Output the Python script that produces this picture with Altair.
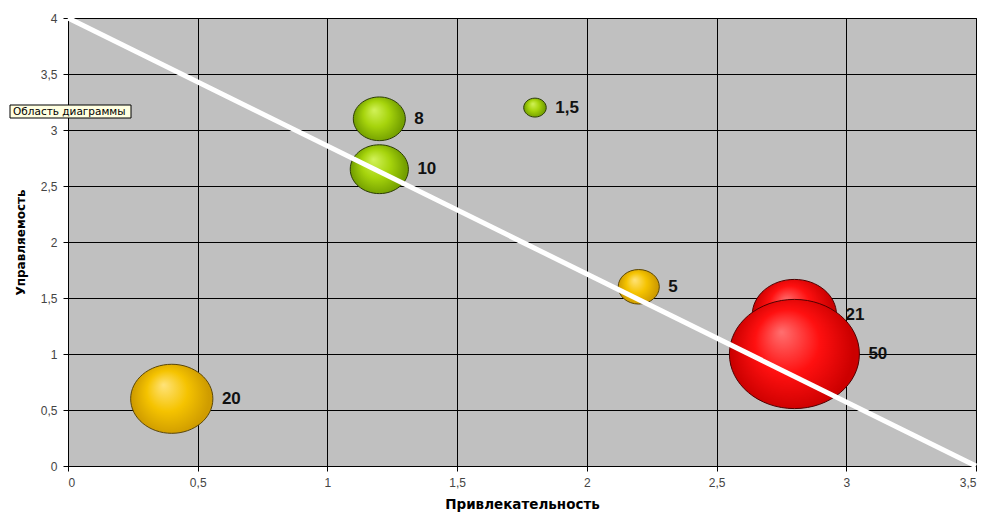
import altair as alt
import pandas as pd

# ---- data ----
labels = ["20", "8", "10", "1,5", "5", "21", "50"]
attract = [0.4, 1.2, 1.2, 1.8, 2.2, 2.8, 2.8]      # Привлекательность (x)
control = [0.6, 3.1, 2.65, 3.2, 1.6, 1.35, 1.0]    # Управляемость (y)
volume = [20, 8, 10, 1.5, 5, 21, 50]               # bubble size
group = ["yellow", "green", "green", "green", "yellow", "red", "red"]

line_x = [0, 3.5]
line_y = [4, 0]

x_ticks = [0, 0.5, 1, 1.5, 2, 2.5, 3, 3.5]
y_ticks = [0, 0.5, 1, 1.5, 2, 2.5, 3, 3.5, 4]

tooltip_text = ["Область диаграммы"]

df = pd.DataFrame({"label": labels, "x": attract, "y": control, "v": volume, "g": group})
line_df = pd.DataFrame({"x": line_x, "y": line_y})
tip_df = pd.DataFrame({"t": tooltip_text})

W, H = 908, 448
MAXD = 130  # pixel width of the largest bubble

FONT = "Liberation Sans"
TFONT = "DejaVu Sans"
label_expr = "replace(format(datum.value, '~g'), '.', ',')"

xs = alt.Scale(domain=[0, 3.5], nice=False, zero=True)
ys = alt.Scale(domain=[0, 4], nice=False, zero=True)
ss = alt.Scale(type="linear", domain=[0, 50], range=[0, MAXD * MAXD])

ellipse = "M -1 0 A 1 0.84 0 1 1 1 0 A 1 0.84 0 1 1 -1 0 Z"

palettes = {
    "yellow": ("#ffe37a", "#f5c300", "#cf9c00", "#5a4608"),
    "green": ("#d2f25a", "#a6d40c", "#74a000", "#2c3c06"),
    "red": ("#ff7070", "#ff1010", "#cc0000", "#500000"),
}


def grad(light, base, dark):
    return {
        "gradient": "radial",
        "x1": 0.4, "y1": 0.33, "r1": 0,
        "x2": 0.5, "y2": 0.5, "r2": 0.55,
        "stops": [
            {"offset": 0, "color": light},
            {"offset": 0.45, "color": base},
            {"offset": 0.85, "color": dark},
            {"offset": 1, "color": dark},
        ],
    }


x_enc = alt.X("x:Q", scale=xs, title="Привлекательность",
              axis=alt.Axis(values=x_ticks, labelExpr=label_expr))
y_enc = alt.Y("y:Q", scale=ys, title="Управляемость",
              axis=alt.Axis(values=y_ticks, labelExpr=label_expr))

base = alt.Chart(df)

bubble_layers = []
for g in ["yellow", "green", "red"]:
    light, mid, dark, edge = palettes[g]
    bubble_layers.append(
        base.transform_filter(alt.datum.g == g)
        .mark_point(shape=ellipse, filled=True, fill=grad(light, mid, dark),
                    stroke=edge, strokeWidth=1, opacity=1, fillOpacity=1, strokeOpacity=1)
        .encode(x=x_enc, y=y_enc,
                size=alt.Size("v:Q", scale=ss, legend=None))
    )

text_layer = (
    base.transform_calculate(
        lx=f"datum.x + (sqrt(datum.v) * {MAXD} / sqrt(50) / 2 + 9) * 3.5 / {W}"
    )
    .mark_text(align="left", baseline="middle", font=FONT, fontSize=17,
               fontWeight="bold", color="#111")
    .encode(x=alt.X("lx:Q", scale=xs), y=alt.Y("y:Q", scale=ys), text="label:N")
)

line_layer = (
    alt.Chart(line_df)
    .mark_line(color="white", strokeWidth=5, strokeCap="butt")
    .encode(x=alt.X("x:Q", scale=xs), y=alt.Y("y:Q", scale=ys))
)

tip_box = (
    alt.Chart(tip_df)
    .mark_rect(fill="#ffffe1", stroke="#000", strokeWidth=1)
    .encode(x=alt.value(-58), x2=alt.value(63), y=alt.value(87), y2=alt.value(100))
)
tip_text = (
    alt.Chart(tip_df)
    .mark_text(align="left", baseline="middle", font=TFONT, fontSize=10.5, color="#000")
    .encode(x=alt.value(-55), y=alt.value(93.5), text="t:N")
)

chart = (
    alt.layer(*bubble_layers, line_layer, text_layer, tip_box, tip_text)
    .properties(width=W, height=H,
                padding={"left": 68, "top": 18, "right": 11, "bottom": 49},
                autosize=alt.AutoSizeParams(type="none"),
                background="white")
    .configure_view(fill="#c0c0c0", stroke="#000", strokeWidth=1)
    .configure_axis(
        grid=True, gridColor="#000", gridOpacity=1, gridWidth=1,
        domainColor="#000", domainWidth=1,
        tickColor="#000", tickSize=5, tickWidth=1,
        labelFont=FONT, labelFontSize=12, labelColor="#444",
        titleFont=TFONT, titleFontSize=12, titleFontWeight="bold", titleColor="#000",
    )
    .configure_axisX(labelPadding=6, titlePadding=9, titleFontSize=13.5)
    .configure_axisY(labelPadding=6, titlePadding=13)
)

chart.save("out.html", embed_options={"renderer": "svg", "actions": False})
